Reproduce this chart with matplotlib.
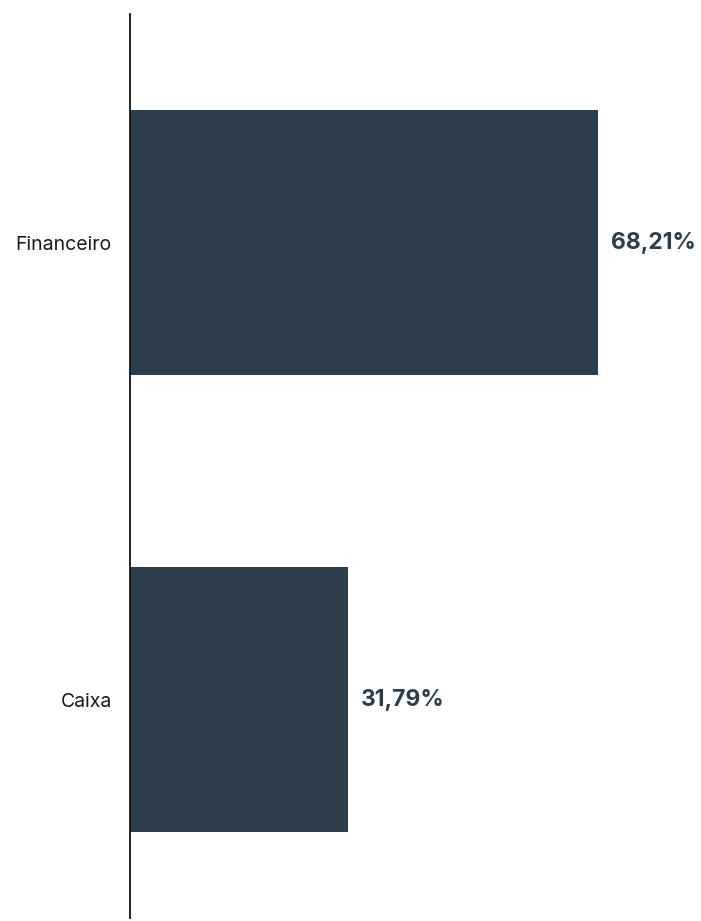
import matplotlib
matplotlib.use("Agg")
import matplotlib.pyplot as plt

categories = ["Caixa", "Financeiro"]
values = [31.79, 68.21]
value_labels = ["31,79%", "68,21%"]

bar_color = "#2c3e4c"
plt.rcParams['font.family'] = ['Inter', 'DejaVu Sans']

fig = plt.figure(figsize=(7.01, 9.21), dpi=100)
W, H = 701, 921
ax = fig.add_axes([130 / W, 3 / H, (W - 130) / W, (918 - 14) / H])

y = list(range(len(categories)))
ax.barh(y, values, height=0.58, color=bar_color)
ax.set_xlim(0, (W - 130) / 6.861)
ax.set_ylim(-0.478, 1.5)

for yi, v, lab in zip(y, values, value_labels):
    ax.text(v + 13 / 6.861, yi, lab, va="center", ha="left",
            fontsize=16.5, fontweight="bold", color=bar_color)

ax.set_yticks(y)
ax.set_yticklabels(categories, fontsize=14, color="#1a1a1a")
ax.tick_params(axis="y", length=0, pad=13)
ax.set_xticks([])
for s in ["top", "right", "bottom"]:
    ax.spines[s].set_visible(False)
ax.spines["left"].set_color("#111111")
ax.spines["left"].set_linewidth(1.3)

fig.savefig("out.png", dpi=100)
